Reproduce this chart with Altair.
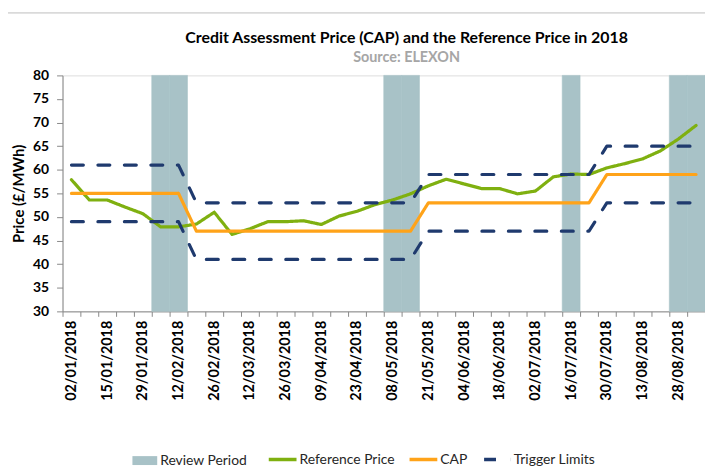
import altair as alt
import pandas as pd

# ---------------- data ----------------
dates = [
    "02/01/2018", "08/01/2018", "15/01/2018", "22/01/2018", "29/01/2018",
    "05/02/2018", "12/02/2018", "19/02/2018", "26/02/2018", "05/03/2018",
    "12/03/2018", "19/03/2018", "26/03/2018", "03/04/2018", "09/04/2018",
    "16/04/2018", "23/04/2018", "30/04/2018", "08/05/2018", "14/05/2018",
    "21/05/2018", "29/05/2018", "04/06/2018", "11/06/2018", "18/06/2018",
    "25/06/2018", "02/07/2018", "09/07/2018", "16/07/2018", "23/07/2018",
    "30/07/2018", "06/08/2018", "13/08/2018", "20/08/2018", "28/08/2018",
    "03/09/2018",
]

tick_labels = [
    "02/01/2018", "15/01/2018", "29/01/2018", "12/02/2018", "26/02/2018",
    "12/03/2018", "26/03/2018", "09/04/2018", "23/04/2018", "08/05/2018",
    "21/05/2018", "04/06/2018", "18/06/2018", "02/07/2018", "16/07/2018",
    "30/07/2018", "13/08/2018", "28/08/2018",
]

review_period = [
    0, 0, 0, 0, 0, 1, 1, 0, 0, 0,
    0, 0, 0, 0, 0, 0, 0, 0, 1, 1,
    0, 0, 0, 0, 0, 0, 0, 0, 1, 0,
    0, 0, 0, 0, 1, 1,
]

reference_price = [
    57.9, 53.6, 53.6, 52.1, 50.7, 47.9, 47.9, 48.5, 51.0, 46.3,
    47.5, 49.0, 49.0, 49.2, 48.4, 50.2, 51.2, 52.6, 53.6, 54.9,
    56.6, 58.0, 57.0, 56.0, 56.0, 54.9, 55.5, 58.5, 59.1, 59.0,
    60.4, 61.3, 62.3, 64.0, 66.5, 69.4,
]

cap = [
    55, 55, 55, 55, 55, 55, 55, 47, 47, 47,
    47, 47, 47, 47, 47, 47, 47, 47, 47, 47,
    53, 53, 53, 53, 53, 53, 53, 53, 53, 53,
    59, 59, 59, 59, 59, 59,
]

trigger_upper = [
    61, 61, 61, 61, 61, 61, 61, 53, 53, 53,
    53, 53, 53, 53, 53, 53, 53, 53, 53, 53,
    59, 59, 59, 59, 59, 59, 59, 59, 59, 59,
    65, 65, 65, 65, 65, 65,
]

trigger_lower = [
    49, 49, 49, 49, 49, 49, 49, 41, 41, 41,
    41, 41, 41, 41, 41, 41, 41, 41, 41, 41,
    47, 47, 47, 47, 47, 47, 47, 47, 47, 47,
    53, 53, 53, 53, 53, 53,
]

series_names = ["Reference Price", "CAP", "Trigger Limits"]
series_colors = ["#7FB010", "#FFA319", "#1F3A6E"]
review_color = "#A8C2C7"

# ---------------- tables ----------------
review_df = pd.DataFrame({
    "date": [d for d, r in zip(dates, review_period) if r],
    "kind": "Review Period",
})

ref_df = pd.DataFrame({"date": dates, "value": reference_price,
                       "series": "Reference Price", "line": "ref"})
cap_df = pd.DataFrame({"date": dates, "value": cap,
                       "series": "CAP", "line": "cap"})
trig_df = pd.concat([
    pd.DataFrame({"date": dates, "value": trigger_upper,
                  "series": "Trigger Limits", "line": "upper"}),
    pd.DataFrame({"date": dates, "value": trigger_lower,
                  "series": "Trigger Limits", "line": "lower"}),
])

FONT = "Lato"

label_list = "[" + ",".join("'" + t + "'" for t in tick_labels) + "]"

x_enc = alt.X(
    "date:N",
    scale=alt.Scale(domain=dates, paddingInner=0, paddingOuter=0),
    axis=alt.Axis(
        title=None,
        labelAngle=-90,
        labelExpr=f"indexof({label_list}, datum.value) >= 0 ? datum.value : ''",
        labelFont=FONT, labelFontSize=14.5, labelFontWeight="bold",
        labelColor="#000000", labelPadding=4,
        tickBand="extent", tickSize=5, tickColor="#898989",
        domainColor="#898989", labelOverlap=False,
    ),
)

y_axis = alt.Axis(
    title="Price (£/MWh)", titleFont=FONT, titleFontSize=15,
    titleFontWeight="bold", titleColor="#000000", titlePadding=6,
    values=[30, 35, 40, 45, 50, 55, 60, 65, 70, 75, 80],
    labelFont=FONT, labelFontSize=14, labelFontWeight="bold",
    labelColor="#000000", labelPadding=8, tickSize=6,
    tickColor="#898989", domainColor="#898989", grid=False,
)
y_scale = alt.Scale(domain=[30, 80], nice=False, zero=False)

line_legend = alt.Legend(
    title=None, orient="none", direction="horizontal",
    legendX=206, legendY=371.5,
    symbolType="stroke", symbolSize=784, symbolStrokeWidth=3.5,
    symbolDashOffset=25.5,
    labelFont=FONT, labelFontSize=14, labelColor="#262626",
    labelOffset=1, columnPadding=8,
)

stroke_enc = alt.Stroke(
    "series:N",
    scale=alt.Scale(domain=series_names, range=series_colors),
    legend=line_legend,
)
dash_enc = alt.StrokeDash(
    "series:N",
    scale=alt.Scale(domain=series_names, range=[[1, 0], [1, 0], [12, 14.7]]),
    legend=line_legend,
)

# thin outer frame of the chart area (decoration, like the Excel chart border)
frame = alt.Chart(pd.DataFrame({"f": [0]})).mark_rect(
    fill=None, stroke="#BDBDBD", strokeWidth=1, clip=False
).encode(
    x=alt.value(-57), x2=alt.value(670),
    y=alt.value(-63), y2=alt.value(420),
)

bands = alt.Chart(review_df).mark_bar(stroke=review_color, strokeWidth=0.6).encode(
    x=x_enc,
    y=alt.Y(datum=30, scale=y_scale, axis=y_axis),
    y2=alt.Y2(datum=80),
    fill=alt.Fill(
        "kind:N",
        scale=alt.Scale(domain=["Review Period"], range=[review_color]),
        legend=alt.Legend(
            title=None, orient="none", direction="horizontal",
            legendX=70.5, legendY=376,
            symbolType="M-1,-0.36H1V0.36H-1Z", symbolSize=625,
            symbolStrokeWidth=0,
            labelFont=FONT, labelFontSize=14, labelColor="#262626",
            labelOffset=3,
        ),
    ),
)

def line_layer(df, detail=False):
    enc = dict(
        x=x_enc,
        y=alt.Y("value:Q", scale=y_scale, axis=y_axis),
        stroke=stroke_enc,
        strokeDash=dash_enc,
    )
    if detail:
        enc["detail"] = "line:N"
    return alt.Chart(df).mark_line(
        strokeWidth=3.2, strokeCap="round", strokeJoin="round"
    ).encode(**enc)

chart = alt.layer(
    frame,
    bands,
    line_layer(ref_df),
    line_layer(cap_df),
    line_layer(trig_df, detail=True),
).properties(
    width=648,
    height=238,
    autosize=alt.AutoSizeParams(type="none"),
    padding={"left": 55, "top": 66, "right": 0, "bottom": 155},
    title=alt.TitleParams(
        text="Credit Assessment Price (CAP) and the Reference Price in 2018",
        subtitle="Source: ELEXON",
        anchor="middle", frame="group", dx=23, offset=-52,
        font=FONT, fontSize=16, fontWeight="bold", color="#000000",
        subtitleFont=FONT, subtitleFontSize=14.5, subtitleFontWeight="bold",
        subtitleColor="#A6A6A6", subtitlePadding=5,
    ),
).configure_view(stroke=None).configure(background="#ffffff")

chart.save("out.html", embed_options={"renderer": "svg", "actions": False})
